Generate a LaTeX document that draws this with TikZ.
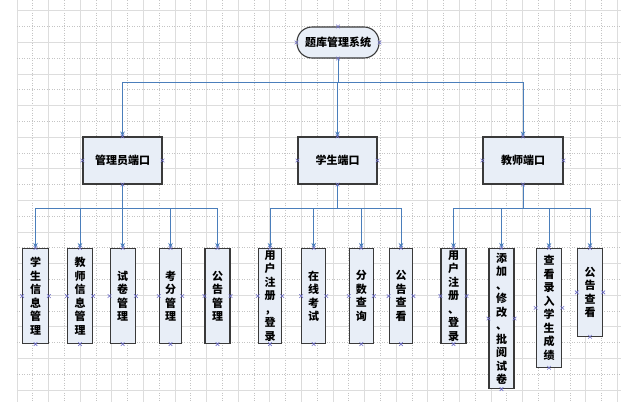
\documentclass[tikz,border=0pt]{standalone}
\usepackage{fontspec}
\setmainfont{Noto Sans CJK SC}
\usetikzlibrary{arrows.meta,shapes.misc}
\definecolor{connc}{HTML}{4A7EBB}
\definecolor{boxfill}{HTML}{E8EEF7}
\definecolor{boxline}{HTML}{3A3A3A}
\definecolor{markc}{HTML}{7070C8}
\definecolor{gridA}{HTML}{DDDDDD}
\definecolor{gridB}{HTML}{C4C4C4}
\newcommand\cpmarks[1]{\foreach \a in {north,south,east,west} {\node[xm] at (#1.\a) {};}}
\begin{document}
\begin{tikzpicture}[x=1pt,y=-1pt,
  box/.style={draw=boxline, fill=boxfill, line width=1.1pt, inner sep=0pt,
    font=\fontsize{11}{13.5}\selectfont\bfseries, align=center},
  root/.style={box, rounded corners=15pt, minimum width=82pt, minimum height=31pt},
  mid/.style={box, minimum width=79pt, minimum height=47pt},
  leaf/.style={box, anchor=north},
  bus/.style={draw=connc, line width=0.9pt},
  arr/.style={bus, -{Stealth[length=5pt,width=4.5pt]}},
  xm/.style={cross out, draw=markc, minimum size=3pt, inner sep=0pt, line width=0.6pt}]
\useasboundingbox (0,0) rectangle (621,402);
\fill[white] (0,0) rectangle (621,402);
% grid
\foreach \k in {0,...,38} {
  \pgfmathsetmacro\gx{16.9+15.8*\k}
  \ifodd\k
    \draw[gridB, dotted, line width=0.5pt] (\gx,0) -- (\gx,402);
  \else
    \draw[gridA, line width=0.5pt] (\gx,0) -- (\gx,402);
  \fi
}
\foreach \k in {0,...,24} {
  \pgfmathsetmacro\gy{10.6+15.8*\k}
  \ifodd\k
    \draw[gridB, dotted, line width=0.5pt] (16.9,\gy) -- (621,\gy);
  \else
    \draw[gridA, line width=0.5pt] (16.9,\gy) -- (621,\gy);
  \fi
}
% nodes
\node[root] (root) at (338,42.5) {题库管理系统};
\node[mid] (m1) at (122.5,160.5) {管理员端口};
\node[mid] (m2) at (337.5,160.5) {学生端口};
\node[mid, minimum width=80pt] (m3) at (523,160.5) {教师端口};

\node[leaf, minimum width=25.6pt, minimum height=95pt] (l1) at (35.5,248) {学\\生\\信\\息\\管\\理};
\node[leaf, minimum width=25pt, minimum height=95pt] (l2) at (80,248) {教\\师\\信\\息\\管\\理};
\node[leaf, minimum width=25.3pt, minimum height=95pt] (l3) at (122.7,248) {试\\卷\\管\\理};
\node[leaf, minimum width=22.4pt, minimum height=95pt] (l4) at (170.5,248) {考\\分\\管\\理};
\node[leaf, minimum width=25pt, minimum height=95pt] (l5) at (217.5,248) {公\\告\\管\\理};

\node[leaf, minimum width=23.4pt, minimum height=95pt] (s1) at (270,248) {用\\户\\注\\册\\，\\登\\录};
\node[leaf, minimum width=24pt, minimum height=95pt] (s2) at (313.7,248) {在\\线\\考\\试};
\node[leaf, minimum width=24pt, minimum height=95pt] (s3) at (361.3,248) {分\\数\\查\\询};
\node[leaf, minimum width=23.7pt, minimum height=95pt] (s4) at (401,248) {公\\告\\查\\看};

\node[leaf, minimum width=25pt, minimum height=95pt] (t1) at (453.5,248) {用\\户\\注\\册\\、\\登\\录};
\node[leaf, minimum width=25pt, minimum height=140pt] (t2) at (501.5,248) {添\\加\\、\\修\\改\\、\\批\\阅\\试\\卷};
\node[leaf, minimum width=25.7pt, minimum height=118.7pt] (t3) at (549,248) {查\\看\\录\\入\\学\\生\\成\\绩};
\node[leaf, minimum width=25.4pt, minimum height=87.7pt] (t4) at (590,248) {公\\告\\查\\看};

% bus levels
\coordinate (top) at (0,82);
\coordinate (bot) at (0,208);
% connectors root -> middle
\draw[bus] (root.south) -- (root.south |- top);
\draw[bus] (m1.north |- top) -- (m3.north |- top);
\foreach \n in {m1,m2,m3} {\draw[arr] (\n.north |- top) -- (\n.north);}
% middle -> leaves
\draw[bus] (m1.south) -- (m1.south |- bot);
\draw[bus] (l1.north |- bot) -- (l5.north |- bot);
\foreach \n in {l1,l2,l3,l4,l5} {\draw[arr] (\n.north |- bot) -- (\n.north);}
\draw[bus] (m2.south) -- (m2.south |- bot);
\draw[bus] (s1.north |- bot) -- (s4.north |- bot);
\foreach \n in {s1,s2,s3,s4} {\draw[arr] (\n.north |- bot) -- (\n.north);}
\draw[bus] (m3.south) -- (m3.south |- bot);
\draw[bus] (t1.north |- bot) -- (t4.north |- bot);
\foreach \n in {t1,t2,t3,t4} {\draw[arr] (\n.north |- bot) -- (\n.north);}
% connection point marks
\foreach \n in {root,m1,m2,m3,l1,l2,l3,l4,l5,s1,s2,s3,s4,t1,t2,t3,t4} {\cpmarks{\n}}
\end{tikzpicture}
\end{document}
